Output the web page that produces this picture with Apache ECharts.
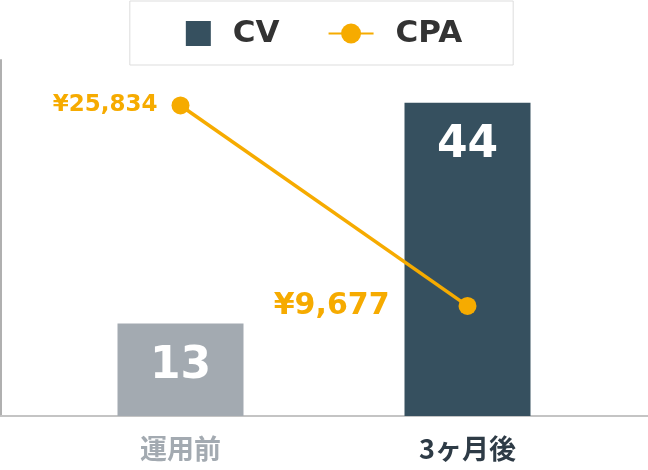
<!DOCTYPE html>
<html><head><meta charset="utf-8">
<script src="https://cdn.jsdelivr.net/npm/echarts@6/dist/echarts.min.js"></script>
<style>html,body{margin:0;padding:0;background:#fff}#c{width:648px;height:470px}</style>
</head><body><div id="c"></div>
<script>
const categories = ['運用前', '3ヶ月後'];
const cvValues = [13, 44];
const cpaValues = [25834, 9677];
const seriesNames = ['CV', 'CPA'];

const orange = '#f6ab00';
const dark = '#36505f';
const gray = '#a3aab1';
const numFont = 'DejaVu Sans';
const jpFont = 'Noto Sans CJK JP';

const chart = echarts.init(document.getElementById('c'), null, {renderer: 'canvas'});
chart.setOption({
  animation: false,
  backgroundColor: '#fff',
  legend: {
    top: 1, left: 'center',
    padding: [17, 51, 16, 56],
    borderColor: '#dddddd', borderWidth: 1,
    itemWidth: 45, itemHeight: 25, itemGap: 48,
    textStyle: {fontFamily: numFont, fontWeight: 'bold', fontSize: 31, color: '#333', lineHeight: 25},
    data: [
      {name: seriesNames[0], icon: 'path://M0 0H10V10H0Z', textStyle: {padding: [0, 0, 0, 7]}},
      {name: seriesNames[1], textStyle: {padding: [0, 0, 0, 17]}}
    ]
  },
  grid: [
    {left: 37, right: 37, top: 60, bottom: 54},
    {left: 1, right: 0, top: 60, bottom: 54}
  ],
  xAxis: [
    {
      type: 'category', gridIndex: 0,
      data: [
        {value: categories[0], textStyle: {color: gray, fontWeight: 'bold', fontSize: 27}},
        {value: categories[1], textStyle: {color: '#2e3b46', fontWeight: 'bold', fontSize: 27}}
      ],
      axisLine: {show: false}, axisTick: {show: false},
      axisLabel: {margin: 19, fontFamily: jpFont}
    },
    {
      type: 'value', gridIndex: 1, min: 0, max: 1,
      axisLine: {show: true, lineStyle: {color: '#c4c4c4', width: 2}},
      axisTick: {show: false}, axisLabel: {show: false}, splitLine: {show: false}
    }
  ],
  yAxis: [
    {type: 'value', gridIndex: 0, min: 0, max: 50, show: false, splitLine: {show: false}},
    {type: 'value', gridIndex: 0, min: 800, max: 29500, show: false, splitLine: {show: false}},
    {
      type: 'value', gridIndex: 1, min: 0, max: 1,
      axisLine: {show: true, lineStyle: {color: '#b0b0b0', width: 2}},
      axisTick: {show: false}, axisLabel: {show: false}, splitLine: {show: false}
    }
  ],
  series: [
    {
      name: seriesNames[0], type: 'bar', xAxisIndex: 0, yAxisIndex: 0,
      barWidth: 126,
      itemStyle: {color: dark},
      data: cvValues.map((v, i) => ({value: v, itemStyle: {color: i === 0 ? gray : dark}})),
      label: {
        show: true, position: 'insideTop', distance: 21,
        color: '#fff', fontFamily: numFont, fontWeight: 'bold', fontSize: 44
      },
      z: 2
    },
    {
      name: seriesNames[1], type: 'line', xAxisIndex: 0, yAxisIndex: 1,
      symbol: 'circle', symbolSize: 18,
      itemStyle: {color: orange},
      lineStyle: {color: orange, width: 3.5},
      data: cpaValues.map((v, i) => ({
        value: v,
        label: i === 0 ? {fontSize: 23} : {fontSize: 30, offset: [-55, 0]}
      })),
      label: {
        show: true, position: 'left', distance: 14,
        color: orange, fontFamily: numFont, fontWeight: 'bold',
        formatter: p => '¥' + p.value.toLocaleString('en-US')
      },
      z: 3
    },
    {
      type: 'line', xAxisIndex: 1, yAxisIndex: 2, data: [], silent: true
    }
  ]
});
</script></body></html>
